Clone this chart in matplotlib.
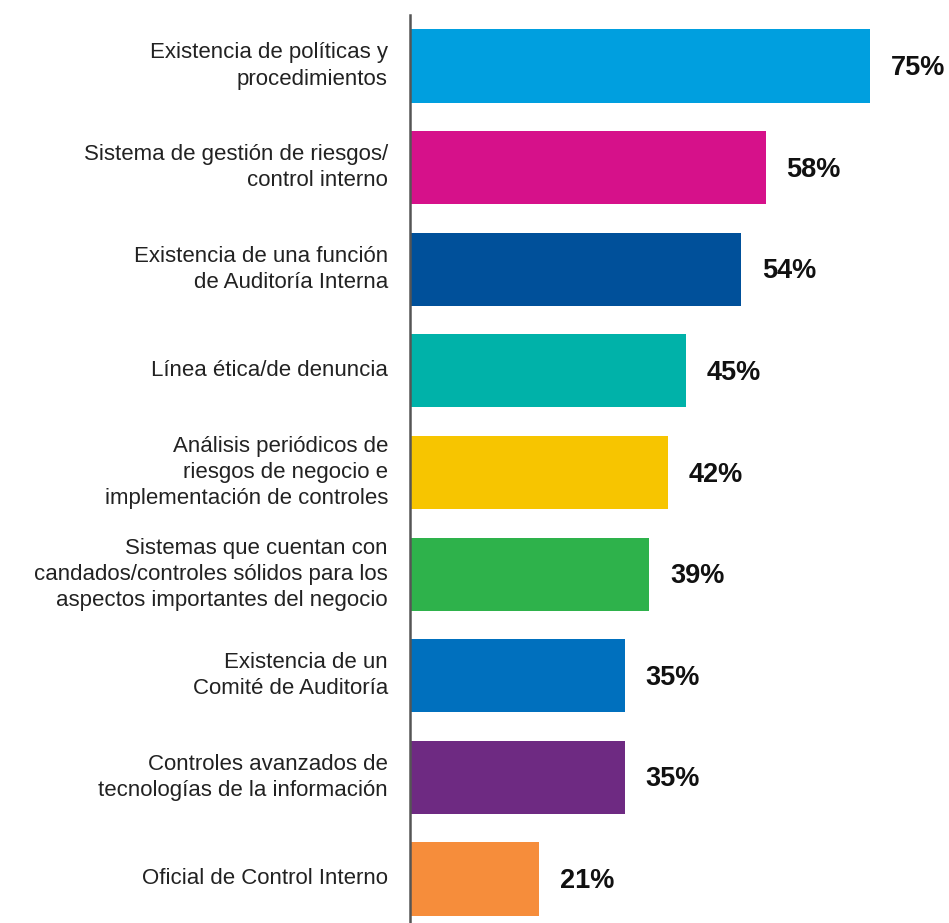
import matplotlib
matplotlib.use('Agg')
import matplotlib.pyplot as plt

plt.rcParams['font.family'] = ['Liberation Sans', 'DejaVu Sans']

# datos
categorias = [
    'Existencia de políticas y\nprocedimientos',
    'Sistema de gestión de riesgos/\ncontrol interno',
    'Existencia de una función\nde Auditoría Interna',
    'Línea ética/de denuncia',
    'Análisis periódicos de\nriesgos de negocio e\nimplementación de controles',
    'Sistemas que cuentan con\ncandados/controles sólidos para los\naspectos importantes del negocio',
    'Existencia de un\nComité de Auditoría',
    'Controles avanzados de\ntecnologías de la información',
    'Oficial de Control Interno',
]
valores = [75, 58, 54, 45, 42, 39, 35, 35, 21]
colores = ['#009FDF', '#D6118A', '#00509A', '#00B2A9', '#F7C500',
           '#2EB24B', '#0070BE', '#6E2A82', '#F68D3B']

W, H = 949, 923
fig = plt.figure(figsize=(W / 100, H / 100), dpi=100)
ax = fig.add_axes([410 / W, 0, (W - 410) / W, 1 - 15 / H])

y = list(range(len(valores)))
ax.barh(y, valores, height=0.72, color=colores)

for yi, v in zip(y, valores):
    ax.text(v + 3.4, yi + 0.02, f'{v}%', ha='left', va='center',
            fontsize=19.5, fontweight='bold', color='#111111')
    ax.text(-3.6, yi, categorias[yi], ha='right', va='center',
            fontsize=16, color='#222222', linespacing=1.32)

ax.set_xlim(0, (W - 410) / 6.133)
ax.set_ylim(8.433, -0.502)
for s in ['top', 'right', 'bottom']:
    ax.spines[s].set_visible(False)
ax.spines['left'].set_color('#555555')
ax.spines['left'].set_linewidth(1.8)
ax.set_xticks([])
ax.set_yticks([])

fig.savefig('out.png', dpi=100)
